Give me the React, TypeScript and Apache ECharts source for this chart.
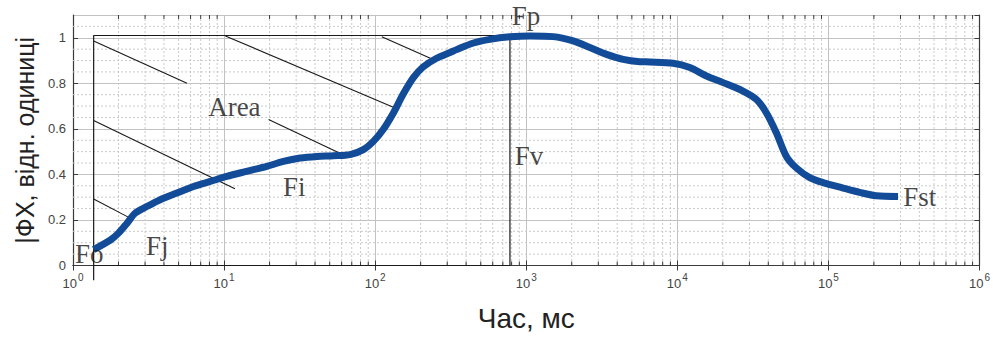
import React, { useEffect, useRef } from "react";
import * as echarts from "echarts";

// Normalised chlorophyll fluorescence induction curve (OJIP), time in ms
const timeMs = [
  1.37, 1.77, 2.0, 2.28, 2.58, 3.08, 3.78, 4.87, 6.28, 8.09, 10.4, 13.4, 17.3,
  19.2, 24.7, 31.9, 41.1, 52.9, 68.2, 83.5, 97.3, 113, 132, 154, 179, 208, 255,
  313, 346, 447, 575, 780, 1057, 1507, 2046, 2637, 3400, 4380, 5650, 6580, 9380,
  12100, 15600, 20100, 27200, 33400, 38900, 45300, 52700, 61400, 75200, 92100,
  125000, 161000, 208000, 289000,
];
const fluorescence = [
  0.07, 0.112, 0.142, 0.186, 0.23, 0.259, 0.289, 0.318, 0.347, 0.369, 0.391,
  0.41, 0.428, 0.435, 0.457, 0.472, 0.479, 0.482, 0.487, 0.509, 0.545, 0.597,
  0.67, 0.755, 0.825, 0.872, 0.91, 0.935, 0.948, 0.977, 0.993, 1.004, 1.008,
  1.005, 0.986, 0.957, 0.927, 0.905, 0.895, 0.894, 0.888, 0.869, 0.832, 0.803,
  0.766, 0.729, 0.67, 0.582, 0.479, 0.428, 0.386, 0.364, 0.34, 0.321, 0.306,
  0.303,
];

// Area above the curve: bounding box (t0..tP, 0..Fp) and hatch strokes
const areaBox: [number, number][] = [
  [1.37, -0.065],
  [1.37, 1.01],
  [780, 1.01],
  [780, 0],
  [1.37, 0],
];
const hatchSegments: [number, number, number, number][] = [
  [1.37, 0.986, 5.68, 0.8],
  [1.37, 0.637, 11.8, 0.337],
  [1.37, 0.292, 2.39, 0.208],
  [10.2, 1.008, 135.5, 0.692],
  [19.7, 0.641, 64.9, 0.479],
  [110.6, 1.005, 255, 0.898],
];

// Point names placed next to the curve
const pointLabels: { name: string; t: number; f: number }[] = [
  { name: "Fo", t: 1.28, f: 0.051 },
  { name: "Fj", t: 3.61, f: 0.086 },
  { name: "Area", t: 11.7, f: 0.698 },
  { name: "Fi", t: 29.1, f: 0.346 },
  { name: "Fv", t: 1042, f: 0.482 },
  { name: "Fp", t: 995, f: 1.095 },
  { name: "Fst", t: 402000, f: 0.302 },
];

const decades = [0, 1, 2, 3, 4, 5];
const minorX: number[] = [];
decades.forEach((d) => {
  for (let m = 2; m <= 9; m++) minorX.push(m * Math.pow(10, d));
});
const minorY = [
  0.05, 0.1, 0.15, 0.25, 0.3, 0.35, 0.45, 0.5, 0.55, 0.65, 0.7, 0.75, 0.85, 0.9,
  0.95, 1.05,
];

const SANS = "Liberation Sans, Arial, sans-serif";
const SERIF = "Liberation Serif, Times New Roman, serif";
const FRAME = "#3a3a3a";
const MAJOR_GRID = "#c2c2c2";
const MINOR_GRID = "#cacaca";

export default function App() {
  const ref = useRef<HTMLDivElement>(null);

  useEffect(() => {
    if (!ref.current) return;
    const chart = echarts.init(ref.current, undefined, { renderer: "svg" });

    const dotted = { stroke: MINOR_GRID, lineWidth: 1, lineDash: [2, 2] };
    const tickStyle = { stroke: FRAME, lineWidth: 1 };

    const option: any = {
      animation: false,
      backgroundColor: "#ffffff",
      grid: { left: 73, right: 13, top: 15, bottom: 72.5, containLabel: false },
      xAxis: [
        {
          type: "log",
          logBase: 10,
          min: 1,
          max: 1e6,
          name: "Час, мс",
          nameLocation: "middle",
          nameGap: 39,
          nameTextStyle: { fontFamily: SANS, fontSize: 28, color: "#222" },
          axisLine: { show: true, lineStyle: { color: FRAME, width: 1.2 } },
          axisTick: { show: true, inside: true, length: 5, lineStyle: { color: FRAME } },
          splitLine: { show: true, lineStyle: { color: MAJOR_GRID, width: 1 } },
          axisLabel: {
            margin: 10,
            formatter: (v: number) => `{b|10}{s|${Math.round(Math.log10(v))}}`,
            rich: {
              b: { fontFamily: SANS, fontSize: 13, color: "#444", lineHeight: 16 },
              s: { fontFamily: SANS, fontSize: 10, color: "#444", lineHeight: 16, padding: [0, 0, 12, 1] },
            },
          },
        },
        {
          type: "log",
          logBase: 10,
          min: 1,
          max: 1e6,
          position: "top",
          axisLine: { show: true, lineStyle: { color: FRAME, width: 1.2 } },
          axisTick: { show: true, inside: true, length: 5, lineStyle: { color: FRAME } },
          axisLabel: { show: false },
          splitLine: { show: false },
        },
      ],
      yAxis: [
        {
          type: "value",
          min: 0,
          max: 1.1,
          interval: 0.2,
          name: "|ФХ, відн. одиниці",
          nameLocation: "middle",
          nameGap: 36,
          nameTextStyle: { fontFamily: SANS, fontSize: 25, color: "#222" },
          axisLine: { show: true, lineStyle: { color: FRAME, width: 1.2 } },
          axisTick: { show: true, inside: true, length: 5, lineStyle: { color: FRAME } },
          splitLine: { show: true, lineStyle: { color: MAJOR_GRID, width: 1 } },
          axisLabel: {
            showMaxLabel: false,
            margin: 7,
            fontFamily: SANS,
            fontSize: 13,
            color: "#444",
            formatter: (v: number) => String(Math.round(v * 10) / 10),
          },
        },
        {
          type: "value",
          min: 0,
          max: 1.1,
          interval: 0.2,
          position: "right",
          axisLine: { show: true, lineStyle: { color: FRAME, width: 1.2 } },
          axisTick: { show: true, inside: true, length: 5, lineStyle: { color: FRAME } },
          axisLabel: { show: false },
          splitLine: { show: false },
        },
      ],
      series: [
        // minor vertical grid (log decades 2..9) with inward ticks on both frame edges
        {
          type: "custom",
          silent: true,
          z: 1,
          data: minorX.map((v) => [v, 0.5]),
          renderItem: (params: any, api: any) => {
            const cs = params.coordSys;
            const p = api.coord([api.value(0), api.value(1)]);
            const x = p[0];
            return {
              type: "group",
              children: [
                { type: "line", shape: { x1: x, y1: cs.y, x2: x, y2: cs.y + cs.height }, style: dotted },
                { type: "line", shape: { x1: x, y1: cs.y, x2: x, y2: cs.y + 4 }, style: tickStyle },
                { type: "line", shape: { x1: x, y1: cs.y + cs.height, x2: x, y2: cs.y + cs.height - 4 }, style: tickStyle },
              ],
            };
          },
        },
        // minor horizontal grid
        {
          type: "custom",
          silent: true,
          z: 1,
          data: minorY.map((v) => [10, v]),
          renderItem: (params: any, api: any) => {
            const cs = params.coordSys;
            const p = api.coord([api.value(0), api.value(1)]);
            const y = p[1];
            return {
              type: "line",
              shape: { x1: cs.x, y1: y, x2: cs.x + cs.width, y2: y },
              style: dotted,
            };
          },
        },
        // bounding box of the area
        {
          type: "line",
          data: areaBox,
          symbol: "none",
          clip: false,
          z: 3,
          lineStyle: { color: "#1a1a1a", width: 1.2 },
        },
        // hatch strokes
        ...hatchSegments.map((s) => ({
          type: "line",
          data: [
            [s[0], s[1]],
            [s[2], s[3]],
          ],
          symbol: "none",
          z: 3,
          lineStyle: { color: "#1a1a1a", width: 1.1 },
        })),
        // induction curve
        {
          type: "line",
          data: timeMs.map((t, i) => [t, fluorescence[i]]),
          symbol: "none",
          smooth: 0.3,
          z: 5,
          lineStyle: { color: "#124b97", width: 7, cap: "butt", join: "round" },
        },
        // point names
        {
          type: "scatter",
          z: 6,
          symbolSize: 1,
          itemStyle: { color: "transparent" },
          data: pointLabels.map((p) => ({ name: p.name, value: [p.t, p.f] })),
          label: {
            show: true,
            position: "inside",
            formatter: "{b}",
            fontFamily: SERIF,
            fontSize: 27,
            color: "#151515",
          },
        },
      ],
    };

    chart.setOption(option);
    return () => chart.dispose();
  }, []);

  return (
    <div
      ref={ref}
      style={{ position: "fixed", left: 0, top: 0, width: 993, height: 338, background: "#fff" }}
    />
  );
}
